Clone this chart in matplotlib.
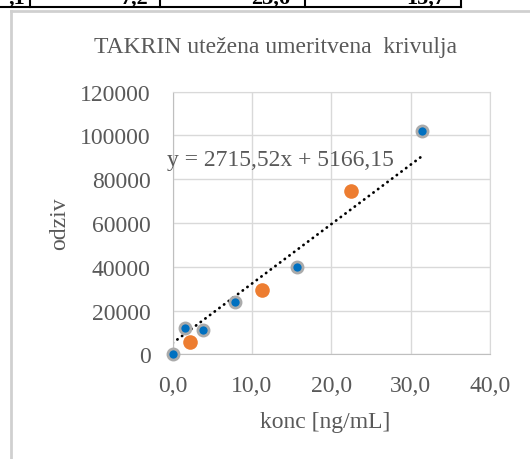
import matplotlib.pyplot as plt
from matplotlib.lines import Line2D
import numpy as np

plt.rcParams['font.family'] = ['Liberation Serif', 'DejaVu Serif']

# standards (blue) and control samples (orange)
konc_std = [0.0, 1.5, 3.8, 7.9, 15.7, 31.4]
odziv_std = [0, 11900, 11300, 24100, 40100, 101800]
konc_ctrl = [2.2, 11.2, 22.5]
odziv_ctrl = [5800, 29600, 74500]

# weighted calibration line
slope = 2715.52
intercept = 5166.15

x_ticks = [0, 10, 20, 30, 40]
y_ticks = [0, 20000, 40000, 60000, 80000, 100000, 120000]
table_cells = [",1", "7,2", "23,6", "15,7"]

grey = '#595959'
fs = 17

fig = plt.figure(figsize=(5.3, 4.6), dpi=100)
ax = fig.add_axes([0.3258, 0.2276, 0.5987, 0.571])

# trend line over the standard range
xl = np.array([min(konc_std), max(konc_std)])
ax.plot(xl, slope * xl + intercept, color='black', lw=2.0,
        linestyle=(0, (0.1, 2.0)), dash_capstyle='round', zorder=2)

ax.plot(konc_std, odziv_std, 'o', color='#0070C0', markersize=8,
        markeredgecolor='#ABABAB', markeredgewidth=2.0, zorder=3,
        clip_on=False)
ax.plot(konc_ctrl, odziv_ctrl, 'o', color='#ED7D31', markersize=10.5,
        markeredgewidth=0, zorder=3, clip_on=False)

ax.set_xlim(0, 40)
ax.set_ylim(0, 120000)
ax.set_xticks(x_ticks)
ax.set_yticks(y_ticks)
ax.set_xticklabels([f"{v:.1f}".replace('.', ',') for v in x_ticks])
ax.set_yticklabels([str(v) for v in y_ticks])
ax.tick_params(length=0, labelsize=fs, labelcolor=grey)
ax.tick_params(axis='x', pad=15)
ax.tick_params(axis='y', pad=16)
ax.grid(True, color='#D9D9D9', lw=1)
ax.set_axisbelow(True)
for s in ax.spines.values():
    s.set_color('#D9D9D9')
ax.spines['left'].set_color('#BFBFBF')
ax.spines['bottom'].set_color('#BFBFBF')

eq = f"y = {slope:.2f}x + {intercept:.2f}".replace('.', ',')
ax.text(-0.7, 89000, eq, fontsize=fs, color=grey, va='center', ha='left')

fig.text(276 / 530, 1 - 48 / 460, "TAKRIN utežena umeritvena  krivulja",
         fontsize=fs, color=grey, ha='center', va='center')
fig.text(60 / 530, 1 - 224 / 460, "odziv", fontsize=fs, color=grey,
         rotation=90, ha='center', va='center')
fig.text(325 / 530, 1 - 423 / 460, "konc [ng/mL]", fontsize=fs,
         color=grey, ha='center', va='center')

# chart border and the table row above it
fig.add_artist(Line2D([11 / 530, 11 / 530], [0, 1 - 12 / 460],
                      transform=fig.transFigure, color='#D0D0D0', lw=2))
fig.add_artist(Line2D([11 / 530, 1], [1 - 12 / 460, 1 - 12 / 460],
                      transform=fig.transFigure, color='#D0D0D0', lw=2))
fig.add_artist(Line2D([0, 461 / 530], [1 - 8 / 460, 1 - 8 / 460],
                      transform=fig.transFigure, color='black', lw=1.5))
for xv in [30, 160, 305, 461]:
    fig.add_artist(Line2D([xv / 530, xv / 530], [1 - 8 / 460, 1],
                          transform=fig.transFigure, color='black', lw=1.5))
for xr, t in zip([25, 148, 290, 445], table_cells):
    fig.text(xr / 530, 1 - 4 / 460, t, fontsize=16, fontweight='bold',
             ha='right', va='baseline', color='black')

fig.savefig('out.png', dpi=100)
